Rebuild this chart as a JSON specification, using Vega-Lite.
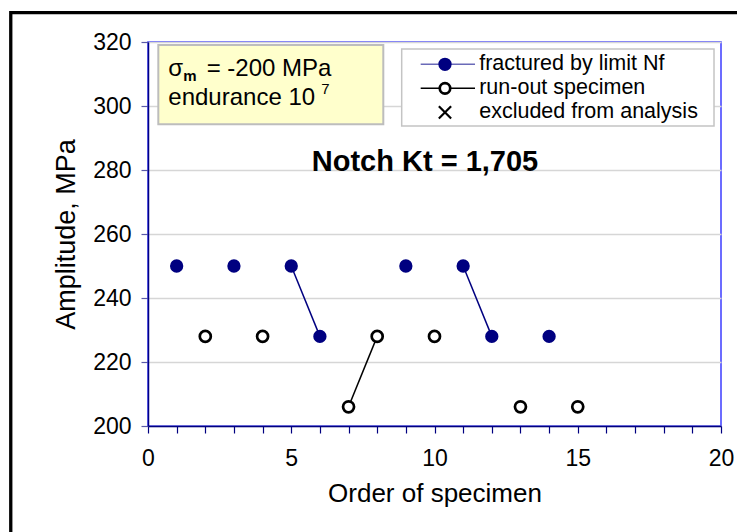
{
  "$schema": "https://vega.github.io/schema/vega-lite/v6.json",
  "width": 573,
  "height": 384,
  "autosize": {"type": "none"},
  "padding": {"left": 148, "top": 42, "right": 16, "bottom": 106},
  "background": "white",
  "config": {
    "font": "Liberation Sans",
    "view": {"stroke": "#3c3cff", "strokeWidth": 1.5}
  },
  "datasets": {
    "points": [
      {"x": 1, "y": 250, "kind": "fractured"},
      {"x": 2, "y": 228, "kind": "runout"},
      {"x": 3, "y": 250, "kind": "fractured"},
      {"x": 4, "y": 228, "kind": "runout"},
      {"x": 5, "y": 250, "kind": "fractured"},
      {"x": 6, "y": 228, "kind": "fractured"},
      {"x": 7, "y": 206, "kind": "runout"},
      {"x": 8, "y": 228, "kind": "runout"},
      {"x": 9, "y": 250, "kind": "fractured"},
      {"x": 10, "y": 228, "kind": "runout"},
      {"x": 11, "y": 250, "kind": "fractured"},
      {"x": 12, "y": 228, "kind": "fractured"},
      {"x": 13, "y": 206, "kind": "runout"},
      {"x": 14, "y": 228, "kind": "fractured"},
      {"x": 15, "y": 206, "kind": "runout"}
    ],
    "segs": [
      {"x": 5, "y": 250, "x2": 6, "y2": 228, "kind": "fractured"},
      {"x": 11, "y": 250, "x2": 12, "y2": 228, "kind": "fractured"},
      {"x": 7, "y": 206, "x2": 8, "y2": 228, "kind": "runout"}
    ],
    "frame": [{"x": -4.79, "x2": 22, "y": 329.16, "y2": 150}],
    "yellow": [{"x": 0.36, "x2": 8.213, "y": 319.06, "y2": 294.28}],
    "legbox": [{"x": 8.855, "x2": 19.756, "y": 317.81, "y2": 293.75}],
    "legline": [
      {"x": 9.518, "x2": 11.414, "y": 313.03, "y2": 313.03, "kind": "fractured"},
      {"x": 9.518, "x2": 11.414, "y": 305.53, "y2": 305.53, "kind": "runout"}
    ],
    "legpts": [
      {"x": 10.366, "y": 313.03, "kind": "fractured"},
      {"x": 10.366, "y": 305.53, "kind": "runout"},
      {"x": 10.366, "y": 298.03, "kind": "excluded"}
    ],
    "legtext": [
      {"x": 11.56, "y": 313.03, "label": "fractured by limit Nf"},
      {"x": 11.56, "y": 305.53, "label": "run-out specimen"},
      {"x": 11.56, "y": 298.03, "label": "excluded from analysis"}
    ],
    "boxtext": [
      {"x": 0.709, "y": 309.375, "label": "σ"},
      {"x": 2.048, "y": 309.375, "label": "= -200  MPa"},
      {"x": 0.709, "y": 300.3, "label": "endurance 10"}
    ],
    "sub": [{"x": 1.232, "y": 307.9, "label": "m"}],
    "sup": [{"x": 6.05, "y": 303.9, "label": "7"}],
    "title": [{"x": 9.668, "y": 282.5, "label": "Notch Kt = 1,705"}]
  },
  "encoding": {
    "x": {
      "field": "x",
      "type": "quantitative",
      "scale": {"domain": [0, 20], "nice": false, "zero": false},
      "axis": {
        "title": "Order of specimen",
        "values": [0,1,2,3,4,5,6,7,8,9,10,11,12,13,14,15,16,17,18,19,20],
        "labelExpr": "datum.value % 5 === 0 ? datum.label : ''",
        "labelOverlap": false,
        "labelFlush": false,
        "grid": false,
        "domainColor": "#000080",
        "domainWidth": 1.5,
        "tickColor": "#000080",
        "tickWidth": 1.2,
        "tickSize": 7,
        "labelFontSize": 23,
        "labelColor": "black",
        "labelPadding": 14,
        "titleFontSize": 26,
        "titleFontWeight": "normal",
        "titleColor": "black",
        "titlePadding": 10
      }
    },
    "y": {
      "field": "y",
      "type": "quantitative",
      "scale": {"domain": [200, 320], "nice": false, "zero": false},
      "axis": {
        "title": "Amplitude, MPa",
        "values": [200, 220, 240, 260, 280, 300, 320],
        "grid": true,
        "gridColor": "#d6d6d6",
        "gridWidth": 1.5,
        "domainColor": "#000080",
        "domainWidth": 1.5,
        "tickColor": "#5a5aa8",
        "tickWidth": 1.2,
        "tickSize": 7,
        "labelFontSize": 23,
        "labelColor": "black",
        "labelPadding": 10,
        "titleFontSize": 27,
        "titleFontWeight": "normal",
        "titleColor": "black",
        "titlePadding": 12
      }
    }
  },
  "layer": [
    {
      "data": {"name": "frame"},
      "mark": {"type": "rect", "fill": "white", "fillOpacity": 0, "stroke": "black", "strokeWidth": 3.3},
      "encoding": {"x2": {"field": "x2"}, "y2": {"field": "y2"}}
    },
    {
      "data": {"name": "yellow"},
      "mark": {"type": "rect", "fill": "#ffffcc", "stroke": "#bdbdbd", "strokeWidth": 2},
      "encoding": {"x2": {"field": "x2"}, "y2": {"field": "y2"}}
    },
    {
      "data": {"name": "boxtext"},
      "mark": {"type": "text", "align": "left", "baseline": "alphabetic", "fontSize": 24, "color": "black"},
      "encoding": {"text": {"field": "label"}}
    },
    {
      "data": {"name": "sub"},
      "mark": {"type": "text", "align": "left", "baseline": "alphabetic", "fontSize": 15, "fontWeight": "bold", "color": "black"},
      "encoding": {"text": {"field": "label"}}
    },
    {
      "data": {"name": "sup"},
      "mark": {"type": "text", "align": "left", "baseline": "alphabetic", "fontSize": 15, "color": "black"},
      "encoding": {"text": {"field": "label"}}
    },
    {
      "data": {"name": "legbox"},
      "mark": {"type": "rect", "fill": "white", "stroke": "#c4c4c4", "strokeWidth": 1.5},
      "encoding": {"x2": {"field": "x2"}, "y2": {"field": "y2"}}
    },
    {
      "data": {"name": "legline"},
      "mark": {"type": "rule", "strokeWidth": 1.5},
      "encoding": {
        "x2": {"field": "x2"},
        "y2": {"field": "y2"},
        "color": {"field": "kind", "type": "nominal", "scale": {"domain": ["fractured", "runout", "excluded"], "range": ["#6a6ab8", "#000000", "#000000"]}, "legend": null}
      }
    },
    {
      "data": {"name": "legpts"},
      "transform": [{"filter": "datum.kind === 'fractured'"}],
      "mark": {"type": "point", "shape": "circle", "filled": true, "color": "#000080", "size": 177, "opacity": 1}
    },
    {
      "data": {"name": "legpts"},
      "transform": [{"filter": "datum.kind === 'runout'"}],
      "mark": {"type": "point", "shape": "circle", "filled": true, "fill": "white", "stroke": "black", "strokeWidth": 2.7, "size": 110, "opacity": 1}
    },
    {
      "data": {"name": "legpts"},
      "transform": [{"filter": "datum.kind === 'excluded'"}],
      "mark": {"type": "point", "shape": "M-1,-1L1,1M1,-1L-1,1", "filled": false, "stroke": "black", "strokeWidth": 2.2, "size": 150, "opacity": 1}
    },
    {
      "data": {"name": "legtext"},
      "mark": {"type": "text", "align": "left", "baseline": "middle", "fontSize": 21.5, "color": "black"},
      "encoding": {"text": {"field": "label"}}
    },
    {
      "data": {"name": "title"},
      "mark": {"type": "text", "align": "center", "baseline": "middle", "fontSize": 29, "fontWeight": "bold", "color": "black"},
      "encoding": {"text": {"field": "label"}}
    },
    {
      "data": {"name": "segs"},
      "mark": {"type": "rule", "strokeWidth": 1.5},
      "encoding": {
        "x2": {"field": "x2"},
        "y2": {"field": "y2"},
        "color": {"field": "kind", "type": "nominal", "scale": {"domain": ["fractured", "runout", "excluded"], "range": ["#000080", "#000000", "#000000"]}, "legend": null}
      }
    },
    {
      "data": {"name": "points"},
      "transform": [{"filter": "datum.kind === 'fractured'"}],
      "mark": {"type": "point", "shape": "circle", "filled": true, "color": "#000080", "size": 177, "opacity": 1}
    },
    {
      "data": {"name": "points"},
      "transform": [{"filter": "datum.kind === 'runout'"}],
      "mark": {"type": "point", "shape": "circle", "filled": true, "fill": "white", "stroke": "black", "strokeWidth": 2.7, "size": 121, "opacity": 1}
    }
  ],
  "resolve": {"scale": {"color": "independent"}}
}
